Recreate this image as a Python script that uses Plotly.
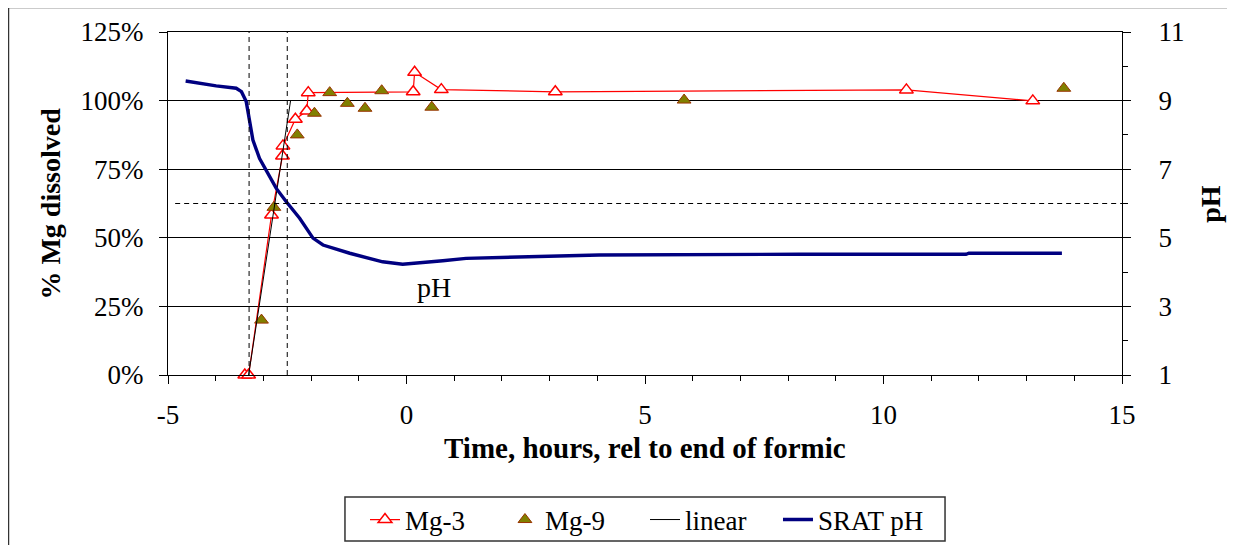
import plotly.graph_objects as go

# ---- data ----
mg3_t = [-3.39, -3.31, -2.83, -2.60, -2.59, -2.33, -2.09, -2.06, 0.14, 0.17, 0.73, 3.12, 10.48, 13.13]
mg3_pct = [0.0, 0.0, 58.3, 79.8, 83.5, 93.2, 96.2, 102.9, 103.2, 110.3, 104.0, 103.2, 103.9, 99.9]

mg9_t = [-3.04, -2.78, -2.29, -1.93, -1.61, -1.24, -0.87, -0.52, 0.53, 5.82, 13.78]
mg9_pct = [20.0, 61.1, 87.5, 95.4, 102.9, 99.0, 97.2, 103.6, 97.6, 100.2, 104.5]

linear_t = [-3.31, -2.43]
linear_pct = [0.0, 100.0]

ph_t = [-4.63, -4.34, -3.99, -3.57, -3.46, -3.36, -3.29, -3.22, -3.08, -2.91, -2.73, -2.52,
        -2.24, -1.96, -1.75, -1.19, -0.50, -0.08, 0.20, 0.76, 1.25, 1.95, 4.04, 8.23, 11.73,
        11.79, 13.74]
ph_val = [9.57, 9.50, 9.43, 9.36, 9.26, 8.97, 8.43, 7.85, 7.31, 6.88, 6.44, 6.05,
          5.57, 4.99, 4.79, 4.55, 4.30, 4.23, 4.26, 4.33, 4.40, 4.43, 4.50, 4.52, 4.52,
          4.55, 4.55]

ref_times = [-3.30, -2.50]   # vertical dashed markers
ref_ph = 6.0                 # horizontal dashed pH level
ref_ph_start = -4.85

x_ticks = [-5, 0, 5, 10, 15]
x_tick_text = ["-5", "0", "5", "10", "15"]
y_ticks = [0, 25, 50, 75, 100, 125]
y_tick_text = ["0%", "25%", "50%", "75%", "100%", "125%"]
y2_ticks = [1, 3, 5, 7, 9, 11]

FONT = "Liberation Serif"
FS = 27
FT = 28

fig = go.Figure()

fig.add_trace(go.Scatter(
    x=mg3_t, y=mg3_pct, name="Mg-3", mode="lines+markers", legend="legend",
    line=dict(color="#FF0000", width=1.2),
    marker=dict(symbol="triangle-up", size=12, color="white",
                line=dict(color="#FF0000", width=1.5)),
    cliponaxis=False,
))
fig.add_trace(go.Scatter(
    x=mg9_t, y=mg9_pct, name="Mg-9", mode="markers", legend="legend2",
    marker=dict(symbol="triangle-up", size=12, color="#808000",
                line=dict(color="#993300", width=1)),
    cliponaxis=False,
))
fig.add_trace(go.Scatter(
    x=linear_t, y=linear_pct, name="linear", mode="lines", legend="legend3",
    line=dict(color="black", width=1),
))
fig.add_trace(go.Scatter(
    x=ph_t, y=ph_val, name="SRAT pH", mode="lines", yaxis="y2", legend="legend4",
    line=dict(color="#000080", width=3.4),
))

# dashed reference lines
for t in ref_times:
    fig.add_shape(type="line", xref="x", yref="y", x0=t, x1=t, y0=0, y1=125,
                  line=dict(color="black", width=1, dash="5px,4px"))
fig.add_shape(type="line", xref="x", yref="y2", x0=ref_ph_start, x1=15, y0=ref_ph, y1=ref_ph,
              line=dict(color="black", width=1, dash="5px,4px"))

# outer chart border
fig.add_shape(type="rect", xref="paper", yref="paper",
              x0=-0.1672, x1=1.1111, y0=-0.55, y1=1.0714,
              line=dict(color="#333333", width=1.5))
# legend frame
fig.add_shape(type="rect", xref="paper", yref="paper",
              x0=0.1855, x1=0.8145, y0=-0.484, y1=-0.3557,
              line=dict(color="#333333", width=1.5))

fig.add_annotation(x=0.57, y=3.54, xref="x", yref="y2", text="pH", showarrow=False,
                   xanchor="center", yanchor="middle",
                   font=dict(family=FONT, size=FT, color="black"))

fig.add_annotation(x=-0.1236, y=0.5, xref="paper", yref="paper", text="<b>% Mg dissolved</b>",
                   textangle=-90, showarrow=False, xanchor="center", yanchor="middle",
                   font=dict(family=FONT, size=FT, color="black"))
fig.add_annotation(x=1.0925, y=0.5, xref="paper", yref="paper", text="<b>pH</b>",
                   textangle=-90, showarrow=False, xanchor="center", yanchor="middle",
                   font=dict(family=FONT, size=FT, color="black"))
fig.add_annotation(x=0.5, y=-0.212, xref="paper", yref="paper",
                   text="<b>Time, hours, rel to end of formic</b>",
                   showarrow=False, xanchor="center", yanchor="middle",
                   font=dict(family=FONT, size=29, color="black"))

leg_common = dict(orientation="h", yanchor="middle", y=-0.4227, xanchor="left",
                  bgcolor="rgba(0,0,0,0)", borderwidth=0,
                  font=dict(family=FONT, size=FS, color="black"))

fig.update_layout(
    width=1227, height=537,
    margin=dict(l=160, r=113, t=24, b=170, autoexpand=False),
    paper_bgcolor="white", plot_bgcolor="white",
    font=dict(family=FONT, size=FS, color="black"),
    showlegend=True,
    legend=dict(x=0.2065, **leg_common),
    legend2=dict(x=0.3532, **leg_common),
    legend3=dict(x=0.5, **leg_common),
    legend4=dict(x=0.6394, **leg_common),
    xaxis=dict(range=[-5, 15], tickvals=x_ticks, ticktext=x_tick_text,
               showgrid=False, zeroline=False,
               showline=True, linecolor="black", linewidth=1, mirror=True,
               ticks="outside", ticklen=8, tickcolor="black",
               minor=dict(dtick=1, ticks="outside", ticklen=5, tickcolor="black"),
               ticklabelstandoff=8, automargin=False),
    yaxis=dict(range=[0, 125], tickvals=y_ticks, ticktext=y_tick_text, showgrid=True,
               gridcolor="black", gridwidth=1, zeroline=False,
               showline=True, linecolor="black", linewidth=1,
               ticks="outside", ticklen=8, tickcolor="black",
               ticklabelstandoff=10, automargin=False),
    yaxis2=dict(range=[1, 11], tickvals=y2_ticks, overlaying="y", side="right",
                showgrid=False, zeroline=False, showline=True, linecolor="black", linewidth=1,
                ticks="outside", ticklen=8, tickcolor="black",
                minor=dict(dtick=1, tick0=1, ticks="outside", ticklen=5, tickcolor="black"),
                ticklabelstandoff=22, automargin=False),
)

fig.write_html("out.html")
